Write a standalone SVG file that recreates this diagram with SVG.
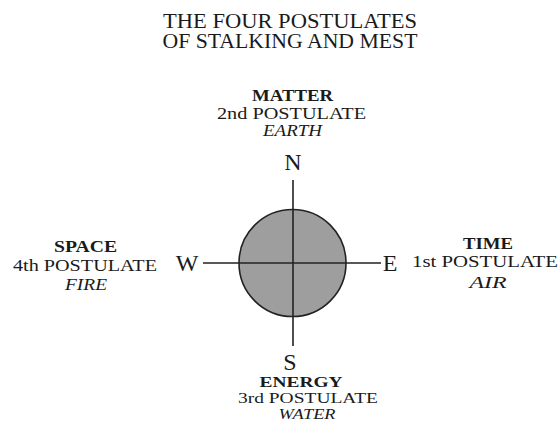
<svg xmlns="http://www.w3.org/2000/svg" width="559" height="431" viewBox="0 0 559 431">
<style>
text{font-family:"Liberation Serif","Times New Roman",serif;fill:#1a1a1a;text-anchor:middle}
.title{font-size:20px}
.name{font-size:16px;font-weight:bold}
.post{font-size:16px}
.elem{font-size:16px;font-style:italic}
.sm{font-size:14px}
.dir{font-size:24px}
.ln{stroke:#222;stroke-width:1.6;fill:none}
</style>
<rect width="559" height="431" fill="#fff"/>
<g id="title">
<text class="title" x="290" y="28" textLength="254" lengthAdjust="spacingAndGlyphs">THE FOUR POSTULATES</text>
<text class="title" x="290" y="48" textLength="255" lengthAdjust="spacingAndGlyphs">OF STALKING AND MEST</text>
</g>
<g id="center">
<circle cx="292.5" cy="263" r="53.5" fill="#9e9e9e" stroke="#222" stroke-width="1.6"/>
</g>
<g id="connectors">
<line class="ln" x1="293" y1="180" x2="293" y2="346"/>
<line class="ln" x1="203" y1="263" x2="381" y2="263"/>
</g>
<g id="north">
<text class="dir" x="293" y="170">N</text>
<text class="name" x="292.5" y="101" textLength="81" lengthAdjust="spacingAndGlyphs">MATTER</text>
<text class="post" x="291.5" y="119" textLength="149" lengthAdjust="spacingAndGlyphs">2nd POSTULATE</text>
<text class="elem" x="292.5" y="136" textLength="59" lengthAdjust="spacingAndGlyphs">EARTH</text>
</g>
<g id="west">
<text class="dir" x="187" y="271">W</text>
<text class="name" x="85.5" y="252" textLength="63" lengthAdjust="spacingAndGlyphs">SPACE</text>
<text class="post" x="85" y="271" textLength="144" lengthAdjust="spacingAndGlyphs">4th POSTULATE</text>
<text class="elem" x="86" y="290" textLength="42" lengthAdjust="spacingAndGlyphs">FIRE</text>
</g>
<g id="east">
<text class="dir" x="390" y="271">E</text>
<text class="name" x="488" y="249" textLength="50" lengthAdjust="spacingAndGlyphs">TIME</text>
<text class="post" x="485" y="267" textLength="146" lengthAdjust="spacingAndGlyphs">1st POSTULATE</text>
<text class="elem" x="488" y="288" textLength="37" lengthAdjust="spacingAndGlyphs">AIR</text>
</g>
<g id="south">
<text class="dir" x="290" y="370">S</text>
<text class="name sm" x="301" y="387" textLength="83" lengthAdjust="spacingAndGlyphs">ENERGY</text>
<text class="post sm" x="308" y="403" textLength="140" lengthAdjust="spacingAndGlyphs">3rd POSTULATE</text>
<text class="elem sm" x="307" y="419" textLength="57" lengthAdjust="spacingAndGlyphs">WATER</text>
</g>
</svg>
